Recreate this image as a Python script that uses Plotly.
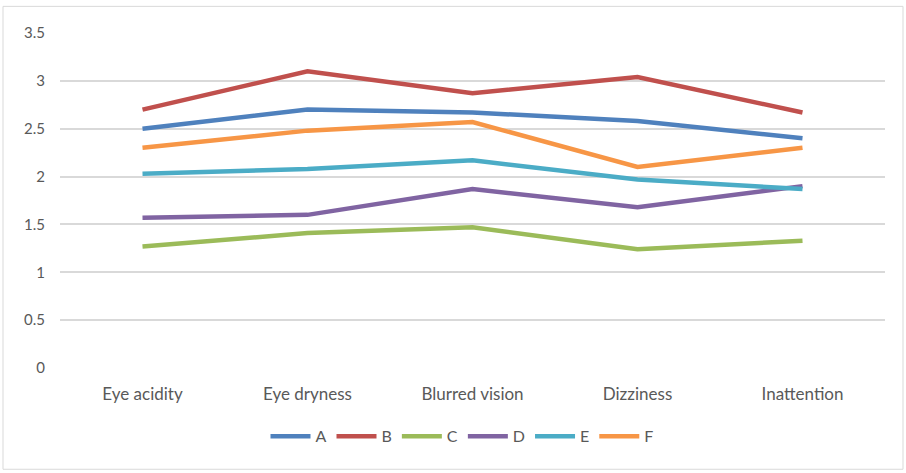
import plotly.graph_objects as go

categories = ["Eye acidity", "Eye dryness", "Blurred vision", "Dizziness", "Inattention"]
series_names = ["A", "B", "C", "D", "E", "F"]
A = [2.50, 2.70, 2.67, 2.58, 2.40]
B = [2.70, 3.10, 2.87, 3.04, 2.67]
C = [1.27, 1.41, 1.47, 1.24, 1.33]
D = [1.57, 1.60, 1.87, 1.68, 1.90]
E = [2.03, 2.08, 2.17, 1.97, 1.87]
F = [2.30, 2.48, 2.57, 2.10, 2.30]
y_ticks = [0, 0.5, 1, 1.5, 2, 2.5, 3, 3.5]
y_tick_labels = ["0", "0.5", "1", "1.5", "2", "2.5", "3", "3.5"]

colors = ["#4F81BD", "#C0504D", "#9BBB59", "#8064A2", "#4BACC6", "#F79646"]
values = [A, B, C, D, E, F]

fig = go.Figure()
for name, vals, col in zip(series_names, values, colors):
    fig.add_trace(go.Scatter(
        x=categories, y=vals, name=name, mode="lines",
        line=dict(color=col, width=4.5),
    ))

W, H = 906, 473
ml, mr, mt, mb = 60, 21, 32.7, 104.5
pw = W - ml - mr
ph = H - mt - mb

def px_to_paper_x(px):
    return (px - ml) / pw

def px_to_paper_y(py):
    return (H - mb - py) / ph

fig.update_layout(
    width=W, height=H,
    margin=dict(l=ml, r=mr, t=mt, b=mb),
    paper_bgcolor="white", plot_bgcolor="white",
    font=dict(family="Lato, Open Sans, sans-serif", size=15, color="#595959"),
    showlegend=True,
    legend=dict(
        orientation="h", x=px_to_paper_x(462), xanchor="center",
        y=px_to_paper_y(437), yanchor="middle",
        font=dict(size=16, color="#595959"),
        itemwidth=40, tracegroupgap=0,
    ),
    xaxis=dict(
        type="category", range=[-0.5, 4.5], showgrid=False, zeroline=False,
        showline=False, ticks="", tickfont=dict(size=17, color="#595959"),
        ticklabelstandoff=14,
    ),
    yaxis=dict(
        range=[0, 3.5], tickvals=y_ticks, ticktext=y_tick_labels,
        showgrid=True, gridcolor="#D9D9D9", gridwidth=1.5, zeroline=False,
        showline=False, ticks="", tickfont=dict(size=15, color="#595959"),
        ticklabelstandoff=14,
    ),
    shapes=[dict(
        type="rect", xref="paper", yref="paper",
        x0=px_to_paper_x(3), x1=px_to_paper_x(903),
        y0=px_to_paper_y(470), y1=px_to_paper_y(6),
        line=dict(color="#D9D9D9", width=1), fillcolor="rgba(0,0,0,0)",
        layer="below",
    )],
)

fig.write_html("out.html")
